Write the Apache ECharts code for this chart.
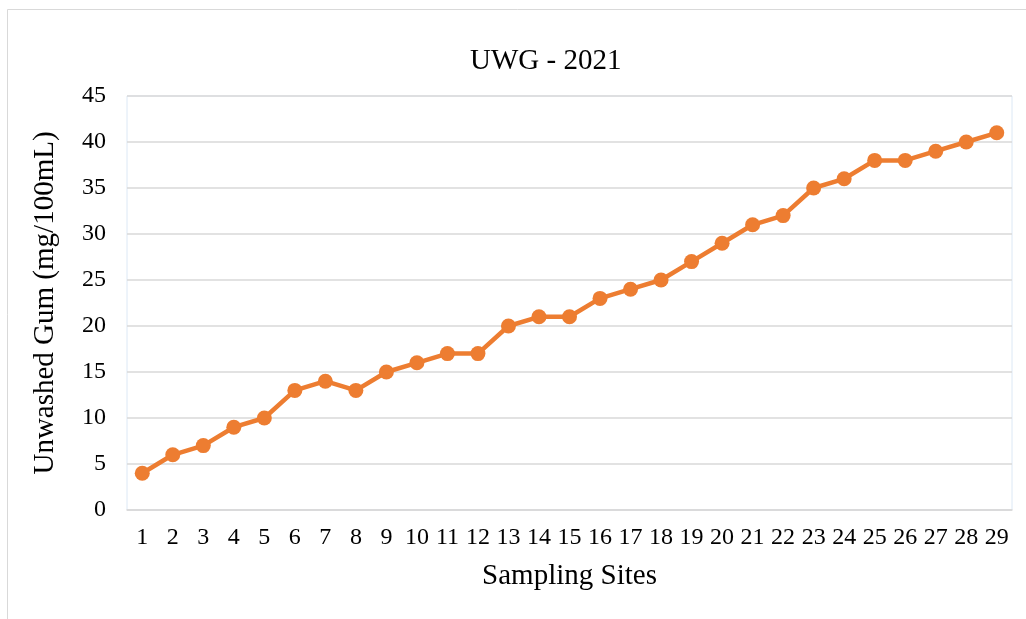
<!DOCTYPE html>
<html><head><meta charset="utf-8">
<script src="https://cdn.jsdelivr.net/npm/echarts@6/dist/echarts.min.js"></script>
<style>html,body{margin:0;padding:0;background:#fff}#c{width:1026px;height:619px}</style>
</head><body><div id="c"></div>
<script>
const categories = ['1','2','3','4','5','6','7','8','9','10','11','12','13','14','15','16','17','18','19','20','21','22','23','24','25','26','27','28','29'];
const values = [4,6,7,9,10,13,14,13,15,16,17,17,20,21,21,23,24,25,27,29,31,32,35,36,38,38,39,40,41];
const titleText = 'UWG - 2021';
const xName = 'Sampling Sites';
const yName = 'Unwashed Gum (mg/100mL)';
const font = '"Liberation Serif", "Times New Roman", serif';
const chart = echarts.init(document.getElementById('c'));
chart.setOption({
  backgroundColor: '#fff',
  animation: false,
  graphic: [{type:'rect', shape:{x:7.5,y:9.5,width:1030,height:620}, style:{fill:'none', stroke:'#d9d9d9', lineWidth:1}}],
  title: {text: titleText, left: 465, top: 42, textStyle:{fontFamily:font, fontWeight:'normal', fontSize:29, color:'#000'}},
  grid: {left:127, right:14, top:96, bottom:109, show:true, borderColor:'#dce8f5', borderWidth:1},
  xAxis: {type:'category', data:categories, boundaryGap:true,
    name:xName, nameLocation:'middle', nameGap:52, nameTextStyle:{fontFamily:font, fontSize:29, color:'#000'},
    axisLine:{lineStyle:{color:'#d9d9d9', width:1.5}}, axisTick:{show:false},
    axisLabel:{fontFamily:font, fontSize:24, color:'#000', margin:16, interval:0}},
  yAxis: {type:'value', min:0, max:45, interval:5,
    name:yName, nameLocation:'middle', nameGap:67, nameTextStyle:{fontFamily:font, fontSize:29, color:'#000'},
    axisLine:{show:false}, axisTick:{show:false},
    splitLine:{lineStyle:{color:'#d9d9d9', width:1.5}},
    axisLabel:{fontFamily:font, fontSize:24, color:'#000', margin:21}},
  series: [{type:'line', data:values, symbol:'circle', symbolSize:15,
    lineStyle:{color:'#ED7D31', width:4.5}, itemStyle:{color:'#ED7D31'}}]
});
</script></body></html>
